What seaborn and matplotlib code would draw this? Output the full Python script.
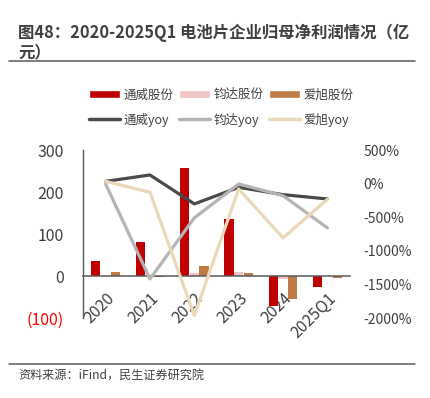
import matplotlib
matplotlib.use("Agg")
import matplotlib.pyplot as plt
from matplotlib.lines import Line2D
from matplotlib.patches import Patch
import numpy as np
import pandas as pd
import seaborn as sns

# ── Data (亿元 / %) ─────────────────────────────────────────────────────────
categories = ["2020", "2021", "2022", "2023", "2024", "2025Q1"]
tongwei = [36.1, 82.1, 257.3, 135.7, -70.4, -26.5]
junda = [0.4, 0.8, 7.2, 9.0, -6.5, -0.8]
aixu = [8.4, -1.2, 23.5, 7.8, -55.0, -4.5]
tongwei_yoy = [34, 129, -302, -55, -164, -228]
junda_yoy = [-5, -1418, -510, -5, -179, -659]
aixu_yoy = [34, -129, -1964, -79, -808, -233]

bar_names = ["通威股份", "钧达股份", "爱旭股份"]
line_names = ["通威yoy", "钧达yoy", "爱旭yoy"]
BAR_COLORS = ["#C00000", "#F0C4C4", "#BF7A45"]
LINE_COLORS = ["#4A4A4A", "#B4B4B4", "#EAD9B8"]
TEXT = "#404040"
AXIS = "#595959"

sns.set_theme(style="white")
plt.rcParams["font.family"] = ["Noto Sans CJK SC", "DejaVu Sans"]

bars = pd.DataFrame({
    "year": categories * 3,
    "company": np.repeat(bar_names, len(categories)),
    "profit": tongwei + junda + aixu,
})

fig = plt.figure(figsize=(4.30, 3.98), dpi=100)
ax = fig.add_axes([0.194, 0.201, 0.619, 0.422])

sns.barplot(data=bars, x="year", y="profit", hue="company",
            hue_order=bar_names, palette=BAR_COLORS, width=0.66, gap=0.06,
            linewidth=0, saturation=1, legend=False, ax=ax)
ax.set_xlim(-0.5, len(categories) - 0.5)
ax.set_ylim(-100, 300)
ax.set_yticks([-100, 0, 100, 200, 300])
ax.set_yticklabels(["(100)", "0", "100", "200", "300"])
ax.set_xlabel("")
ax.set_ylabel("")

for side in ["top", "right"]:
    ax.spines[side].set_visible(False)
ax.spines["left"].set_color(AXIS)
ax.spines["left"].set_linewidth(1.0)
ax.spines["bottom"].set_position(("data", 0))
ax.spines["bottom"].set_color(AXIS)
ax.spines["bottom"].set_linewidth(1.1)
ax.tick_params(axis="y", length=0, pad=14, labelsize=11.5, labelcolor=TEXT)
ax.get_yticklabels()[0].set_color("red")
ax.tick_params(axis="x", length=0, pad=10, labelsize=11.5, labelcolor=TEXT)
for lab in ax.get_xticklabels():
    lab.set_rotation(45)
    lab.set_ha("right")
    lab.set_va("top")
    lab.set_rotation_mode("anchor")

# ── YoY lines on secondary axis ────────────────────────────────────────────
ax2 = ax.twinx()
pos = np.arange(len(categories))
for vals, color in zip([tongwei_yoy, junda_yoy, aixu_yoy], LINE_COLORS):
    sns.lineplot(x=pos, y=vals, color=color, linewidth=2.3, ax=ax2)
ax2.set_ylim(-2000, 500)
ax2.set_yticks(range(-2000, 501, 500))
ax2.set_yticklabels([f"{v}%" for v in range(-2000, 501, 500)])
ax2.tick_params(axis="y", length=0, pad=10, labelsize=10, labelcolor=TEXT)
for side in ax2.spines:
    ax2.spines[side].set_visible(False)
ax2.set_ylabel("")

# ── Legend ─────────────────────────────────────────────────────────────────
handles = []
for i in range(3):
    handles.append(Patch(facecolor=BAR_COLORS[i], label=bar_names[i]))
    handles.append(Line2D([0], [0], color=LINE_COLORS[i], lw=2.5,
                          label=line_names[i]))
fig.legend(handles=handles, ncol=3, loc="center", bbox_to_anchor=(0.514, 0.73),
           frameon=False, fontsize=9, handlelength=2.5, handleheight=0.7,
           handletextpad=0.3, columnspacing=0.4, labelspacing=0.9,
           labelcolor=TEXT)

# ── Title, rules and source ────────────────────────────────────────────────
fig.text(0.042, 0.894, "图48：2020-2025Q1 电池片企业归母净利润情况（亿\n元）",
         fontsize=11.8, fontweight="bold", color=TEXT, ha="left", va="center",
         linespacing=1.1)
fig.add_artist(Line2D([0.021, 0.966], [0.847, 0.847], color=AXIS, lw=1.1))
fig.add_artist(Line2D([0.021, 0.966], [0.085, 0.085], color=AXIS, lw=1.1))
fig.text(0.042, 0.055, "资料来源：iFind，民生证券研究院", fontsize=8.7,
         color=TEXT, ha="left", va="center")

fig.savefig("out.png", dpi=100)
plt.close(fig)
